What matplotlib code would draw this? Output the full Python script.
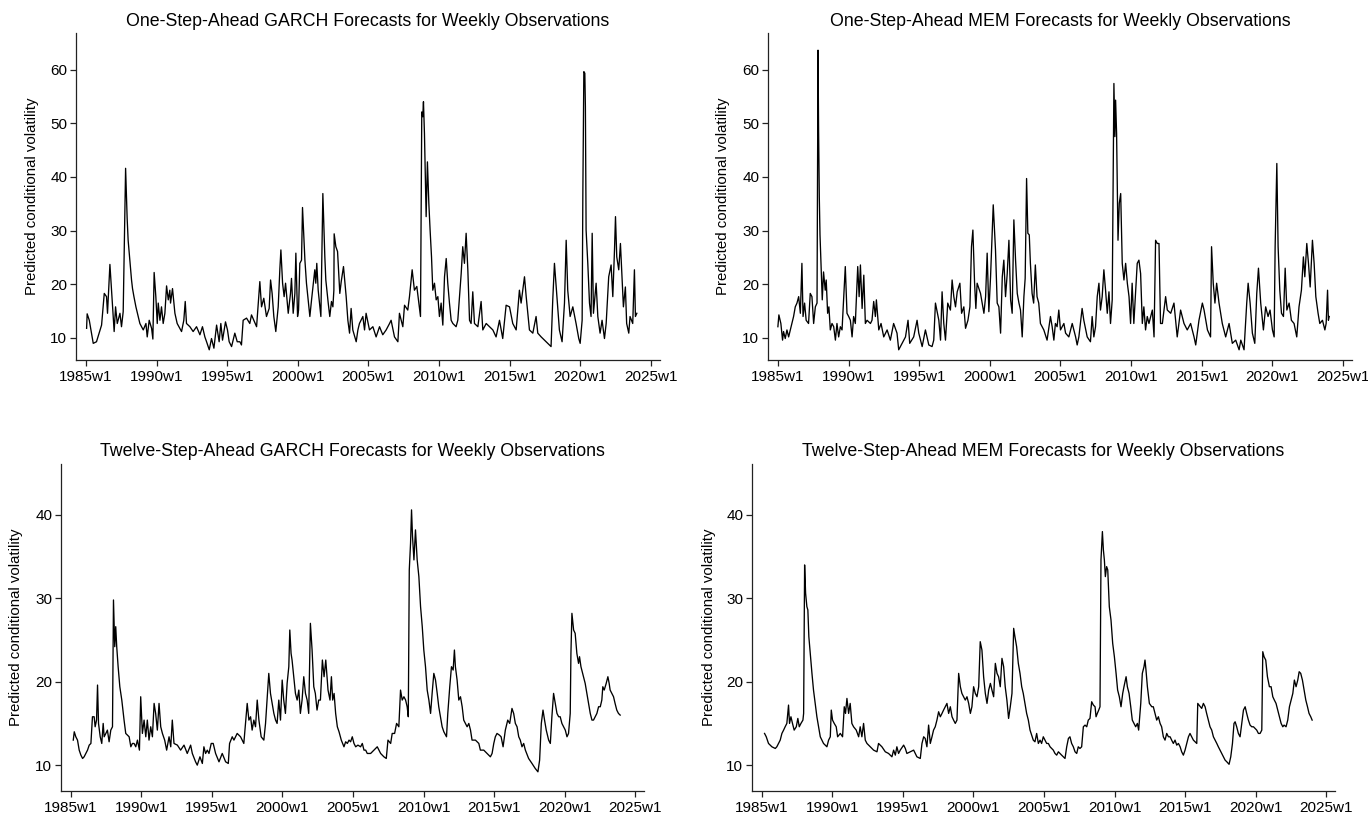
import matplotlib
matplotlib.use("Agg")
import matplotlib.pyplot as plt

plt.rcParams['font.family'] = ['Liberation Sans', 'DejaVu Sans']

# One-step-ahead GARCH forecasts (decimal year, annualised volatility)
garch1_year = [
    1985.05, 1985.09, 1985.24, 1985.52, 1985.75, 1986.11, 1986.30, 1986.46, 1986.53, 1986.70,
    1987.00, 1987.10, 1987.22, 1987.41, 1987.52, 1987.64, 1987.81, 1987.92, 1987.99, 1988.11,
    1988.23, 1988.30, 1988.40, 1988.54, 1988.70, 1988.82, 1989.06, 1989.25, 1989.34, 1989.48,
    1989.65, 1989.74, 1989.83, 1989.95, 1990.05, 1990.12, 1990.24, 1990.35, 1990.47, 1990.59,
    1990.71, 1990.83, 1990.94, 1990.99, 1991.13, 1991.30, 1991.46, 1991.65, 1991.77, 1991.93,
    1992.03, 1992.12, 1992.36, 1992.59, 1992.83, 1993.07, 1993.25, 1993.42, 1993.54, 1993.73,
    1993.89, 1994.06, 1994.25, 1994.43, 1994.55, 1994.67, 1994.88, 1995.02, 1995.14, 1995.31,
    1995.54, 1995.71, 1995.90, 1996.01, 1996.13, 1996.37, 1996.60, 1996.72, 1997.08, 1997.31,
    1997.43, 1997.59, 1997.78, 1997.97, 1998.07, 1998.18, 1998.30, 1998.44, 1998.61, 1998.73,
    1998.80, 1998.92, 1999.03, 1999.13, 1999.32, 1999.48, 1999.55, 1999.67, 1999.79, 1999.86,
    1999.98, 2000.05, 2000.14, 2000.26, 2000.33, 2000.42, 2000.50, 2000.61, 2000.73, 2000.85,
    2000.97, 2001.20, 2001.27, 2001.34, 2001.44, 2001.63, 2001.77, 2001.91, 2001.98, 2002.15,
    2002.26, 2002.38, 2002.48, 2002.55, 2002.57, 2002.69, 2002.81, 2002.97, 2003.07, 2003.23,
    2003.42, 2003.54, 2003.66, 2003.77, 2003.89, 2004.13, 2004.25, 2004.36, 2004.60, 2004.72,
    2004.83, 2005.07, 2005.31, 2005.54, 2005.78, 2006.01, 2006.25, 2006.49, 2006.60, 2006.84,
    2007.08, 2007.19, 2007.43, 2007.55, 2007.78, 2007.90, 2008.09, 2008.25, 2008.42, 2008.56,
    2008.68, 2008.77, 2008.84, 2008.89, 2008.96, 2009.08, 2009.17, 2009.27, 2009.36, 2009.46,
    2009.55, 2009.67, 2009.79, 2009.91, 2010.02, 2010.14, 2010.26, 2010.38, 2010.50, 2010.61,
    2010.73, 2010.85, 2010.97, 2011.20, 2011.32, 2011.56, 2011.67, 2011.79, 2011.91, 2012.03,
    2012.15, 2012.26, 2012.38, 2012.50, 2012.74, 2012.97, 2013.09, 2013.33, 2013.56, 2013.80,
    2014.03, 2014.27, 2014.50, 2014.74, 2014.98, 2015.21, 2015.45, 2015.68, 2015.80, 2016.04,
    2016.16, 2016.39, 2016.63, 2016.86, 2016.98, 2017.22, 2017.45, 2017.69, 2017.92, 2018.04,
    2018.16, 2018.28, 2018.51, 2018.70, 2018.87, 2018.99, 2019.10, 2019.27, 2019.46, 2019.69,
    2019.88, 2019.98, 2020.12, 2020.17, 2020.24, 2020.31, 2020.35, 2020.40, 2020.52, 2020.64,
    2020.75, 2020.83, 2020.92, 2021.11, 2021.23, 2021.39, 2021.53, 2021.70, 2021.82, 2022.00,
    2022.17, 2022.29, 2022.41, 2022.48, 2022.57, 2022.71, 2022.83, 2022.95, 2023.04, 2023.18,
    2023.27, 2023.42, 2023.51, 2023.70, 2023.82, 2023.89, 2023.99]
garch1_vol = [
    11.8, 14.5, 13.3, 9.0, 9.3, 12.4, 18.3, 17.7, 14.6, 23.7,
    11.2, 15.8, 12.7, 14.6, 12.1, 14.9, 41.6, 32.3, 28.2, 24.5,
    20.8, 19.2, 17.7, 15.8, 14.0, 12.7, 11.5, 12.7, 10.2, 13.3,
    11.8, 9.8, 22.2, 17.7, 12.7, 16.5, 13.3, 15.8, 12.7, 14.6,
    19.7, 17.1, 18.9, 16.5, 19.2, 14.6, 12.7, 11.8, 11.2, 13.3,
    16.8, 12.7, 12.1, 11.2, 12.1, 10.6, 12.1, 10.2, 9.3, 7.8,
    9.9, 8.1, 12.4, 9.3, 12.7, 9.6, 13.0, 11.5, 9.3, 8.4,
    10.9, 9.3, 9.3, 8.7, 13.3, 13.7, 12.7, 14.3, 12.1, 20.5,
    15.8, 17.4, 14.0, 15.5, 20.8, 18.3, 14.0, 11.2, 15.8, 23.0,
    26.4, 20.2, 17.7, 20.2, 14.6, 18.3, 21.1, 14.6, 18.3, 25.8,
    14.0, 15.2, 23.9, 24.5, 34.3, 28.9, 24.5, 20.2, 17.1, 14.0,
    17.1, 22.7, 20.2, 23.9, 18.9, 14.0, 36.9, 25.1, 20.8, 16.5,
    14.0, 16.8, 15.8, 18.9, 29.4, 27.0, 26.1, 18.3, 20.5, 23.3,
    17.7, 13.3, 10.9, 15.5, 11.5, 9.3, 11.5, 12.7, 14.0, 11.5,
    14.6, 11.5, 12.1, 10.2, 12.1, 10.6, 11.5, 12.7, 13.3, 10.2,
    9.3, 14.6, 12.1, 16.1, 15.2, 17.7, 22.7, 18.9, 19.6, 16.5,
    14.0, 52.1, 51.2, 54.0, 48.1, 32.6, 42.8, 35.1, 30.1, 25.1,
    18.9, 20.2, 17.1, 17.7, 14.0, 16.5, 12.4, 21.4, 24.8, 20.2,
    16.5, 13.3, 12.7, 12.1, 13.3, 22.0, 27.0, 23.9, 29.5, 22.7,
    13.3, 12.7, 18.6, 12.7, 12.1, 16.8, 11.5, 12.7, 12.1, 11.5,
    10.2, 13.3, 9.9, 16.1, 15.8, 12.7, 11.5, 18.9, 16.5, 21.4,
    17.7, 11.5, 10.9, 14.0, 10.9, 10.2, 9.6, 9.0, 8.4, 17.1,
    23.9, 19.6, 11.5, 9.3, 16.5, 28.2, 18.9, 14.0, 15.8, 12.7,
    9.9, 9.0, 13.3, 36.9, 59.6, 59.3, 53.1, 30.1, 23.9, 16.5,
    14.0, 29.5, 14.6, 20.2, 14.0, 10.9, 13.3, 9.9, 12.7, 21.4,
    23.6, 17.7, 26.4, 32.6, 25.1, 22.7, 27.6, 21.1, 15.8, 19.5,
    12.7, 10.9, 14.0, 12.7, 22.7, 14.0, 14.6]

# One-step-ahead MEM forecasts
mem1_year = [
    1985.00, 1985.07, 1985.21, 1985.33, 1985.40, 1985.52, 1985.64, 1985.76, 1985.88, 1985.99,
    1986.11, 1986.23, 1986.35, 1986.47, 1986.59, 1986.63, 1986.70, 1986.78, 1986.89, 1987.00,
    1987.17, 1987.29, 1987.41, 1987.53, 1987.65, 1987.77, 1987.84, 1987.88, 1987.93, 1987.98,
    1988.05, 1988.14, 1988.23, 1988.35, 1988.42, 1988.52, 1988.61, 1988.71, 1988.83, 1988.95,
    1989.07, 1989.18, 1989.30, 1989.42, 1989.54, 1989.77, 1989.89, 1990.01, 1990.13, 1990.25,
    1990.36, 1990.48, 1990.65, 1990.75, 1990.84, 1990.96, 1991.08, 1991.19, 1991.31, 1991.55,
    1991.66, 1991.78, 1991.90, 1991.97, 1992.14, 1992.30, 1992.49, 1992.73, 1992.96, 1993.19,
    1993.43, 1993.55, 1993.79, 1994.03, 1994.21, 1994.33, 1994.61, 1994.85, 1994.97, 1995.21,
    1995.44, 1995.68, 1995.91, 1996.03, 1996.15, 1996.39, 1996.51, 1996.62, 1996.74, 1996.86,
    1997.02, 1997.21, 1997.33, 1997.45, 1997.57, 1997.69, 1997.88, 1998.00, 1998.16, 1998.28,
    1998.45, 1998.59, 1998.70, 1998.80, 1998.92, 1999.01, 1999.10, 1999.34, 1999.58, 1999.70,
    1999.81, 1999.93, 2000.05, 2000.17, 2000.24, 2000.33, 2000.40, 2000.52, 2000.64, 2000.76,
    2000.88, 2000.99, 2001.11, 2001.23, 2001.35, 2001.47, 2001.58, 2001.70, 2001.82, 2001.94,
    2002.06, 2002.17, 2002.29, 2002.41, 2002.50, 2002.60, 2002.69, 2002.79, 2002.87, 2002.99,
    2003.10, 2003.22, 2003.34, 2003.46, 2003.58, 2003.82, 2004.05, 2004.29, 2004.41, 2004.53,
    2004.64, 2004.76, 2004.88, 2005.00, 2005.24, 2005.36, 2005.59, 2005.83, 2006.07, 2006.18,
    2006.30, 2006.53, 2006.65, 2006.89, 2007.12, 2007.24, 2007.36, 2007.48, 2007.60, 2007.72,
    2007.83, 2007.95, 2008.07, 2008.19, 2008.31, 2008.43, 2008.54, 2008.66, 2008.78, 2008.85,
    2008.90, 2008.97, 2009.07, 2009.16, 2009.26, 2009.37, 2009.49, 2009.61, 2009.73, 2009.85,
    2009.96, 2010.07, 2010.19, 2010.31, 2010.43, 2010.55, 2010.67, 2010.79, 2010.90, 2011.02,
    2011.14, 2011.26, 2011.50, 2011.62, 2011.73, 2011.85, 2011.97, 2012.08, 2012.21, 2012.44,
    2012.56, 2012.80, 2013.03, 2013.26, 2013.50, 2013.74, 2013.97, 2014.21, 2014.45, 2014.57,
    2014.80, 2015.04, 2015.16, 2015.40, 2015.62, 2015.69, 2015.81, 2015.93, 2016.05, 2016.22,
    2016.45, 2016.69, 2016.93, 2017.16, 2017.40, 2017.64, 2017.76, 2017.99, 2018.18, 2018.28,
    2018.42, 2018.58, 2018.75, 2018.89, 2019.01, 2019.17, 2019.36, 2019.52, 2019.69, 2019.83,
    2020.00, 2020.12, 2020.19, 2020.31, 2020.40, 2020.52, 2020.64, 2020.78, 2020.90, 2021.02,
    2021.18, 2021.34, 2021.53, 2021.72, 2021.88, 2022.05, 2022.19, 2022.29, 2022.43, 2022.55,
    2022.67, 2022.83, 2022.95, 2023.07, 2023.23, 2023.35, 2023.54, 2023.71, 2023.80, 2023.90,
    2023.96, 2024.02]
mem1_vol = [
    12.1, 14.3, 12.7, 9.6, 11.2, 9.9, 11.5, 10.2, 11.5, 12.7,
    14.0, 15.8, 16.5, 17.7, 14.6, 18.0, 23.9, 14.0, 16.5, 13.3,
    12.7, 18.3, 17.7, 12.7, 15.8, 16.5, 63.6, 48.7, 36.3, 29.2,
    23.9, 17.1, 22.3, 18.9, 20.8, 14.6, 15.8, 11.5, 12.7, 12.1,
    9.6, 12.7, 10.2, 12.1, 11.5, 23.3, 14.6, 14.0, 13.3, 10.2,
    14.0, 12.7, 23.3, 17.7, 23.6, 15.5, 21.7, 12.7, 13.3, 12.7,
    13.3, 16.8, 14.0, 17.1, 11.5, 12.7, 10.2, 11.5, 9.6, 12.7,
    10.9, 7.8, 9.0, 10.2, 13.3, 9.0, 10.2, 13.3, 10.9, 8.4,
    11.5, 8.7, 8.4, 9.6, 16.5, 13.3, 9.6, 18.6, 12.7, 9.6,
    16.5, 15.2, 20.8, 17.7, 15.8, 18.6, 20.2, 14.6, 15.8, 11.8,
    13.3, 15.8, 27.0, 30.1, 20.2, 15.5, 20.2, 18.3, 14.6, 17.7,
    25.8, 14.9, 21.4, 30.1, 34.8, 30.1, 26.4, 16.5, 15.8, 10.9,
    21.4, 24.5, 17.7, 22.0, 28.2, 17.1, 14.6, 32.0, 24.5, 18.3,
    16.5, 15.2, 10.2, 17.7, 21.1, 39.7, 29.5, 29.2, 23.9, 18.3,
    16.5, 23.6, 17.7, 16.5, 12.7, 11.5, 9.6, 14.0, 12.1, 9.6,
    12.7, 12.1, 15.2, 11.5, 12.7, 10.9, 10.2, 12.7, 10.2, 8.7,
    10.2, 15.5, 13.3, 10.2, 9.3, 14.0, 10.2, 12.1, 17.7, 20.2,
    15.2, 17.7, 22.7, 18.9, 14.6, 18.6, 12.7, 17.1, 57.4, 47.5,
    54.3, 48.1, 28.2, 35.1, 36.9, 23.9, 20.8, 23.9, 20.2, 17.7,
    12.7, 20.2, 12.7, 18.3, 23.9, 24.5, 22.0, 12.7, 15.8, 11.5,
    14.0, 12.7, 15.2, 10.2, 28.2, 27.6, 27.6, 12.7, 12.7, 17.7,
    15.2, 14.6, 16.5, 10.2, 15.2, 12.7, 11.5, 12.7, 10.2, 8.7,
    13.3, 16.5, 15.2, 11.5, 10.2, 27.0, 20.2, 16.5, 20.2, 16.5,
    12.7, 10.2, 12.7, 9.0, 9.6, 7.8, 9.6, 7.8, 16.5, 20.2,
    16.5, 10.9, 9.0, 18.3, 23.0, 16.5, 11.5, 15.8, 14.0, 15.2,
    11.5, 10.2, 27.0, 42.5, 27.0, 18.9, 14.6, 14.0, 23.0, 15.2,
    16.5, 13.3, 12.7, 10.2, 15.8, 18.9, 25.1, 21.4, 27.6, 23.9,
    19.5, 28.2, 23.9, 17.7, 14.6, 12.7, 13.3, 11.5, 12.7, 18.9,
    13.3, 14.0]

# Twelve-step-ahead GARCH forecasts
garch12_year = [
    1985.17, 1985.24, 1985.35, 1985.47, 1985.59, 1985.71, 1985.83, 1985.94, 1986.06, 1986.18,
    1986.30, 1986.42, 1986.53, 1986.65, 1986.72, 1986.82, 1986.89, 1986.96, 1987.08, 1987.19,
    1987.29, 1987.36, 1987.48, 1987.59, 1987.71, 1987.83, 1987.95, 1988.02, 1988.11, 1988.18,
    1988.25, 1988.35, 1988.47, 1988.61, 1988.77, 1988.89, 1989.01, 1989.13, 1989.25, 1989.36,
    1989.48, 1989.60, 1989.72, 1989.86, 1989.95, 1990.07, 1990.19, 1990.31, 1990.42, 1990.54,
    1990.66, 1990.78, 1990.90, 1991.01, 1991.13, 1991.25, 1991.37, 1991.49, 1991.65, 1991.79,
    1991.96, 1992.08, 1992.19, 1992.31, 1992.55, 1992.78, 1993.02, 1993.25, 1993.49, 1993.61,
    1993.84, 1993.96, 1994.15, 1994.32, 1994.43, 1994.55, 1994.67, 1994.79, 1994.95, 1995.09,
    1995.26, 1995.50, 1995.73, 1995.97, 1996.16, 1996.25, 1996.44, 1996.56, 1996.79, 1997.03,
    1997.26, 1997.50, 1997.62, 1997.74, 1997.85, 1997.97, 1998.09, 1998.21, 1998.33, 1998.49,
    1998.68, 1998.80, 1998.92, 1999.03, 1999.15, 1999.27, 1999.39, 1999.51, 1999.62, 1999.74,
    1999.86, 1999.98, 2000.09, 2000.21, 2000.33, 2000.45, 2000.52, 2000.61, 2000.68, 2000.80,
    2000.92, 2001.04, 2001.16, 2001.27, 2001.39, 2001.51, 2001.63, 2001.75, 2001.86, 2001.98,
    2002.10, 2002.22, 2002.33, 2002.45, 2002.57, 2002.69, 2002.83, 2002.95, 2003.07, 2003.23,
    2003.37, 2003.47, 2003.56, 2003.66, 2003.77, 2003.89, 2004.01, 2004.17, 2004.36, 2004.48,
    2004.60, 2004.72, 2004.83, 2004.95, 2005.07, 2005.19, 2005.35, 2005.54, 2005.66, 2005.78,
    2005.90, 2006.01, 2006.25, 2006.49, 2006.72, 2006.96, 2007.19, 2007.36, 2007.48, 2007.67,
    2007.78, 2007.95, 2008.09, 2008.25, 2008.37, 2008.49, 2008.61, 2008.73, 2008.84, 2008.92,
    2008.99, 2009.08, 2009.15, 2009.22, 2009.32, 2009.43, 2009.55, 2009.67, 2009.79, 2009.91,
    2010.02, 2010.14, 2010.26, 2010.38, 2010.50, 2010.61, 2010.73, 2010.85, 2010.97, 2011.08,
    2011.20, 2011.32, 2011.44, 2011.63, 2011.72, 2011.86, 2011.98, 2012.10, 2012.19, 2012.26,
    2012.38, 2012.50, 2012.62, 2012.74, 2012.85, 2013.09, 2013.21, 2013.33, 2013.44, 2013.68,
    2013.92, 2014.03, 2014.27, 2014.50, 2014.74, 2014.86, 2014.98, 2015.09, 2015.21, 2015.38,
    2015.50, 2015.64, 2015.80, 2015.97, 2016.11, 2016.27, 2016.39, 2016.51, 2016.63, 2016.75,
    2016.86, 2016.98, 2017.10, 2017.22, 2017.45, 2017.69, 2017.92, 2018.11, 2018.23, 2018.35,
    2018.47, 2018.58, 2018.70, 2018.87, 2018.99, 2019.10, 2019.22, 2019.34, 2019.46, 2019.58,
    2019.69, 2019.81, 2020.05, 2020.17, 2020.28, 2020.40, 2020.45, 2020.52, 2020.64, 2020.75,
    2020.87, 2020.99, 2021.06, 2021.16, 2021.34, 2021.46, 2021.58, 2021.70, 2021.82, 2021.94,
    2022.05, 2022.17, 2022.29, 2022.41, 2022.53, 2022.64, 2022.71, 2022.81, 2022.95, 2023.07,
    2023.16, 2023.23, 2023.35, 2023.47, 2023.58, 2023.70, 2023.82, 2023.94]
garch12_vol = [
    13.0, 14.0, 13.4, 13.0, 11.8, 11.2, 10.8, 11.0, 11.4, 11.8,
    12.4, 12.6, 15.8, 15.8, 14.6, 15.4, 19.6, 15.0, 13.4, 12.6,
    15.0, 13.4, 13.8, 14.2, 12.8, 14.2, 14.6, 29.8, 24.2, 26.6,
    24.2, 21.8, 19.4, 17.8, 15.4, 13.8, 13.6, 13.4, 12.2, 12.6,
    12.6, 12.2, 13.0, 11.8, 18.2, 13.8, 15.4, 13.4, 15.4, 13.0,
    14.6, 13.4, 17.4, 16.2, 14.2, 17.4, 14.6, 13.8, 13.0, 11.8,
    13.4, 12.2, 15.4, 12.6, 12.4, 11.8, 12.4, 11.4, 12.4, 11.4,
    10.4, 10.0, 11.0, 10.2, 12.2, 11.4, 11.8, 11.4, 12.6, 12.6,
    11.4, 10.4, 11.4, 10.4, 10.2, 12.6, 13.4, 13.0, 13.8, 13.4,
    12.6, 17.4, 15.4, 15.8, 14.2, 15.4, 14.6, 17.8, 15.4, 13.4,
    13.0, 15.0, 18.2, 21.0, 18.6, 17.4, 16.2, 15.4, 15.0, 17.8,
    15.4, 20.2, 17.8, 16.2, 19.8, 21.8, 26.2, 23.4, 22.6, 20.6,
    18.6, 17.8, 19.0, 16.2, 17.8, 20.6, 18.6, 17.8, 16.2, 27.0,
    23.8, 19.4, 18.6, 16.6, 17.8, 17.8, 22.6, 20.6, 22.6, 19.0,
    17.8, 20.6, 17.8, 18.6, 16.2, 14.6, 14.0, 13.0, 12.2, 12.8,
    12.6, 13.0, 12.8, 13.4, 12.6, 12.2, 12.4, 12.2, 12.6, 11.8,
    11.8, 11.4, 11.4, 11.8, 12.2, 11.4, 11.0, 10.8, 13.0, 12.6,
    13.8, 13.8, 15.0, 14.6, 19.0, 17.8, 18.2, 17.8, 17.0, 15.8,
    33.4, 36.6, 40.6, 37.4, 34.6, 38.2, 34.6, 32.6, 29.0, 26.6,
    23.8, 21.8, 19.0, 17.8, 16.2, 18.6, 21.0, 20.2, 18.6, 17.0,
    15.8, 14.6, 14.0, 13.4, 16.2, 19.4, 21.8, 21.4, 23.8, 21.8,
    20.2, 17.8, 18.2, 17.0, 15.4, 14.6, 15.0, 14.2, 13.0, 13.0,
    12.6, 11.8, 11.8, 11.4, 11.0, 11.4, 12.6, 13.4, 13.8, 13.6,
    13.4, 12.2, 14.2, 15.4, 15.0, 16.8, 16.2, 15.0, 14.6, 13.4,
    13.0, 12.2, 12.6, 11.8, 10.8, 10.2, 9.6, 9.2, 10.6, 15.0,
    16.6, 15.4, 14.2, 13.0, 12.6, 15.8, 18.6, 17.4, 16.2, 15.8,
    15.8, 15.0, 14.2, 13.4, 13.8, 16.2, 23.4, 28.2, 26.2, 25.8,
    23.4, 22.2, 23.0, 21.8, 20.6, 19.8, 18.6, 17.4, 16.2, 15.4,
    15.4, 15.8, 16.2, 17.0, 17.0, 17.8, 19.4, 19.0, 19.8, 20.6,
    19.8, 19.0, 18.6, 18.2, 17.4, 16.6, 16.2, 16.0]

# Twelve-step-ahead MEM forecasts
mem12_year = [
    1985.19, 1985.31, 1985.47, 1985.71, 1985.95, 1986.06, 1986.30, 1986.42, 1986.54, 1986.65,
    1986.77, 1986.89, 1986.96, 1987.06, 1987.17, 1987.29, 1987.44, 1987.55, 1987.65, 1987.77,
    1987.91, 1987.96, 1988.03, 1988.10, 1988.19, 1988.26, 1988.33, 1988.43, 1988.55, 1988.66,
    1988.78, 1988.90, 1989.02, 1989.14, 1989.37, 1989.61, 1989.73, 1989.85, 1989.92, 1990.01,
    1990.13, 1990.27, 1990.37, 1990.56, 1990.72, 1990.84, 1990.93, 1991.03, 1991.15, 1991.26,
    1991.38, 1991.50, 1991.69, 1991.86, 1991.97, 1992.09, 1992.21, 1992.33, 1992.45, 1992.68,
    1992.92, 1993.16, 1993.27, 1993.51, 1993.75, 1993.98, 1994.22, 1994.34, 1994.46, 1994.57,
    1994.69, 1994.81, 1995.05, 1995.17, 1995.28, 1995.52, 1995.76, 1995.99, 1996.23, 1996.35,
    1996.47, 1996.58, 1996.70, 1996.82, 1996.94, 1997.06, 1997.17, 1997.29, 1997.41, 1997.53,
    1997.65, 1997.77, 1997.88, 1998.12, 1998.24, 1998.36, 1998.48, 1998.59, 1998.71, 1998.83,
    1998.95, 1999.07, 1999.18, 1999.30, 1999.42, 1999.54, 1999.66, 1999.78, 1999.89, 2000.01,
    2000.13, 2000.25, 2000.37, 2000.48, 2000.60, 2000.72, 2000.84, 2000.96, 2001.08, 2001.20,
    2001.31, 2001.43, 2001.55, 2001.67, 2001.78, 2001.90, 2002.02, 2002.14, 2002.25, 2002.37,
    2002.49, 2002.61, 2002.73, 2002.85, 2002.94, 2003.06, 2003.18, 2003.30, 2003.42, 2003.53,
    2003.65, 2003.77, 2003.89, 2004.01, 2004.24, 2004.36, 2004.48, 2004.60, 2004.72, 2004.83,
    2004.95, 2005.07, 2005.19, 2005.31, 2005.43, 2005.54, 2005.66, 2005.78, 2005.90, 2006.02,
    2006.13, 2006.25, 2006.37, 2006.49, 2006.61, 2006.73, 2006.84, 2006.96, 2007.08, 2007.20,
    2007.32, 2007.43, 2007.55, 2007.67, 2007.79, 2007.91, 2008.03, 2008.14, 2008.26, 2008.38,
    2008.50, 2008.62, 2008.69, 2008.78, 2008.88, 2008.97, 2009.04, 2009.14, 2009.21, 2009.28,
    2009.35, 2009.44, 2009.52, 2009.63, 2009.75, 2009.87, 2009.99, 2010.11, 2010.22, 2010.34,
    2010.46, 2010.58, 2010.67, 2010.82, 2010.91, 2011.03, 2011.15, 2011.26, 2011.38, 2011.50,
    2011.62, 2011.71, 2011.86, 2011.97, 2012.09, 2012.16, 2012.23, 2012.33, 2012.47, 2012.64,
    2012.75, 2012.87, 2012.99, 2013.11, 2013.23, 2013.34, 2013.46, 2013.58, 2013.70, 2013.82,
    2013.94, 2014.05, 2014.17, 2014.29, 2014.41, 2014.53, 2014.65, 2014.76, 2014.88, 2015.00,
    2015.12, 2015.24, 2015.35, 2015.47, 2015.59, 2015.71, 2015.83, 2015.90, 2015.99, 2016.09,
    2016.18, 2016.30, 2016.42, 2016.53, 2016.65, 2016.77, 2016.89, 2017.01, 2017.13, 2017.25,
    2017.36, 2017.48, 2017.60, 2017.72, 2017.84, 2017.96, 2018.12, 2018.24, 2018.36, 2018.47,
    2018.55, 2018.66, 2018.78, 2018.90, 2019.02, 2019.14, 2019.26, 2019.37, 2019.49, 2019.61,
    2019.73, 2019.85, 2019.96, 2020.08, 2020.20, 2020.32, 2020.44, 2020.51, 2020.60, 2020.72,
    2020.84, 2020.98, 2021.10, 2021.22, 2021.33, 2021.45, 2021.57, 2021.69, 2021.81, 2021.93,
    2022.02, 2022.16, 2022.28, 2022.40, 2022.52, 2022.64, 2022.75, 2022.87, 2022.99, 2023.09,
    2023.20, 2023.32, 2023.44, 2023.56, 2023.68, 2023.79, 2023.91, 2024.01]
mem12_vol = [
    13.8, 13.4, 12.6, 12.2, 12.0, 12.2, 13.0, 13.8, 14.2, 14.6,
    15.0, 17.2, 15.0, 15.8, 15.0, 14.2, 14.6, 15.6, 14.6, 15.0,
    15.4, 16.2, 34.0, 30.6, 29.0, 28.6, 25.4, 23.4, 21.0, 19.0,
    17.4, 15.8, 14.6, 13.4, 12.6, 12.2, 13.0, 13.4, 16.6, 15.4,
    15.0, 14.6, 13.4, 13.8, 13.4, 17.0, 16.2, 18.0, 16.2, 17.4,
    15.0, 14.6, 14.2, 13.4, 14.6, 13.4, 15.0, 13.0, 12.6, 12.2,
    11.8, 11.6, 12.6, 12.2, 11.6, 11.4, 11.0, 11.8, 11.2, 12.2,
    11.4, 11.8, 12.4, 12.0, 11.4, 11.6, 11.8, 11.0, 10.8, 12.6,
    13.4, 13.2, 12.2, 14.8, 12.6, 13.4, 14.2, 14.6, 15.4, 16.4,
    15.8, 16.2, 16.6, 17.4, 16.2, 17.0, 15.8, 15.4, 15.0, 15.4,
    21.0, 19.4, 18.6, 18.2, 17.8, 18.2, 17.4, 16.2, 17.0, 19.4,
    18.6, 18.2, 19.4, 24.8, 23.8, 20.6, 18.6, 17.4, 19.0, 19.8,
    19.0, 18.2, 22.2, 21.0, 20.6, 19.4, 22.8, 21.8, 19.4, 17.8,
    15.6, 17.0, 18.6, 26.4, 25.4, 24.2, 22.2, 21.0, 19.4, 18.6,
    17.4, 16.2, 15.4, 14.2, 13.0, 12.8, 13.8, 12.6, 13.0, 12.6,
    13.4, 13.0, 12.6, 12.6, 12.2, 12.0, 11.8, 11.4, 11.2, 11.6,
    11.4, 11.2, 11.0, 10.8, 12.2, 13.2, 13.4, 12.6, 12.2, 11.6,
    11.4, 12.2, 12.0, 12.2, 14.6, 14.8, 14.6, 15.4, 15.6, 17.6,
    17.2, 17.0, 15.8, 16.2, 16.6, 17.0, 34.6, 38.0, 35.8, 34.6,
    32.6, 33.8, 33.4, 29.0, 27.4, 24.6, 23.0, 21.0, 19.0, 18.2,
    17.0, 18.6, 19.4, 20.6, 19.4, 18.6, 17.0, 15.4, 15.0, 14.6,
    15.0, 14.2, 17.4, 21.0, 21.8, 22.6, 21.4, 19.4, 17.4, 17.0,
    17.0, 16.2, 15.4, 15.8, 15.0, 14.6, 13.4, 13.0, 13.8, 13.4,
    13.4, 13.0, 12.6, 13.0, 12.4, 12.6, 12.2, 11.6, 11.2, 11.8,
    12.6, 13.4, 13.8, 13.4, 13.0, 12.8, 12.6, 17.4, 17.2, 17.0,
    16.8, 17.4, 17.0, 16.2, 15.4, 14.6, 14.2, 13.4, 13.0, 12.6,
    12.2, 11.8, 11.4, 11.0, 10.6, 10.4, 10.1, 11.0, 12.6, 15.0,
    15.2, 14.6, 13.8, 13.4, 15.0, 16.6, 17.0, 16.2, 15.4, 14.8,
    14.6, 14.6, 14.4, 14.2, 13.8, 13.8, 14.2, 23.6, 23.0, 22.6,
    20.6, 19.4, 19.4, 18.2, 17.8, 17.4, 16.6, 15.8, 15.0, 14.6,
    14.8, 14.6, 15.4, 17.0, 17.8, 18.6, 20.2, 19.4, 20.2, 21.2,
    21.0, 20.2, 19.0, 17.8, 17.0, 16.2, 15.8, 15.4]

year_ticks = [1985, 1990, 1995, 2000, 2005, 2010, 2015, 2020, 2025]
year_labels = ['%dw1' % y for y in year_ticks]
top_yticks = [10, 20, 30, 40, 50, 60]
bottom_yticks = [10, 20, 30, 40]

W, H = 1368, 816
fig = plt.figure(figsize=(W / 100, H / 100), dpi=100)


def panel(left, top, right, bottom, title, years, vols, yticks, ylim, ylab_x):
    # panel box given in pixels from the top-left corner of the figure
    ax = fig.add_axes([left / W, 1 - bottom / H, (right - left) / W, (bottom - top) / H])
    ax.plot(years, vols, color='black', lw=0.95)
    ax.set_xlim(1984.3, 2025.63)
    ax.set_ylim(*ylim)
    ax.set_xticks(year_ticks)
    ax.set_xticklabels(year_labels)
    ax.set_yticks(yticks)
    for s in ['top', 'right']:
        ax.spines[s].set_visible(False)
    for s in ['left', 'bottom']:
        ax.spines[s].set_linewidth(0.9)
        ax.spines[s].set_color('#222222')
    ax.tick_params(direction='out', length=4.3, width=0.9, color='#222222',
                   labelsize=11)
    ax.tick_params(axis='y', pad=2)
    ax.tick_params(axis='x', pad=3)
    fig.text((left + right) / 2 / W, 1 - (top - 12) / H, title,
             ha='center', va='center', fontsize=12.8)
    fig.text(ylab_x / W, 1 - (top + bottom) / 2 / H, 'Predicted conditional volatility',
             rotation=90, ha='center', va='center', fontsize=10.8)
    return ax


panel(76, 33, 660, 360, 'One-Step-Ahead GARCH Forecasts for Weekly Observations',
      garch1_year, garch1_vol, top_yticks, (5.9, 66.8), 32)
panel(768, 33, 1352, 360, 'One-Step-Ahead MEM Forecasts for Weekly Observations',
      mem1_year, mem1_vol, top_yticks, (5.9, 66.8), 723)
panel(61, 464, 644, 791, 'Twelve-Step-Ahead GARCH Forecasts for Weekly Observations',
      garch12_year, garch12_vol, bottom_yticks, (6.9, 46.1), 16)
panel(752, 464, 1335, 791, 'Twelve-Step-Ahead MEM Forecasts for Weekly Observations',
      mem12_year, mem12_vol, bottom_yticks, (6.9, 46.1), 709)

fig.savefig('out.png', dpi=100, facecolor='white')
